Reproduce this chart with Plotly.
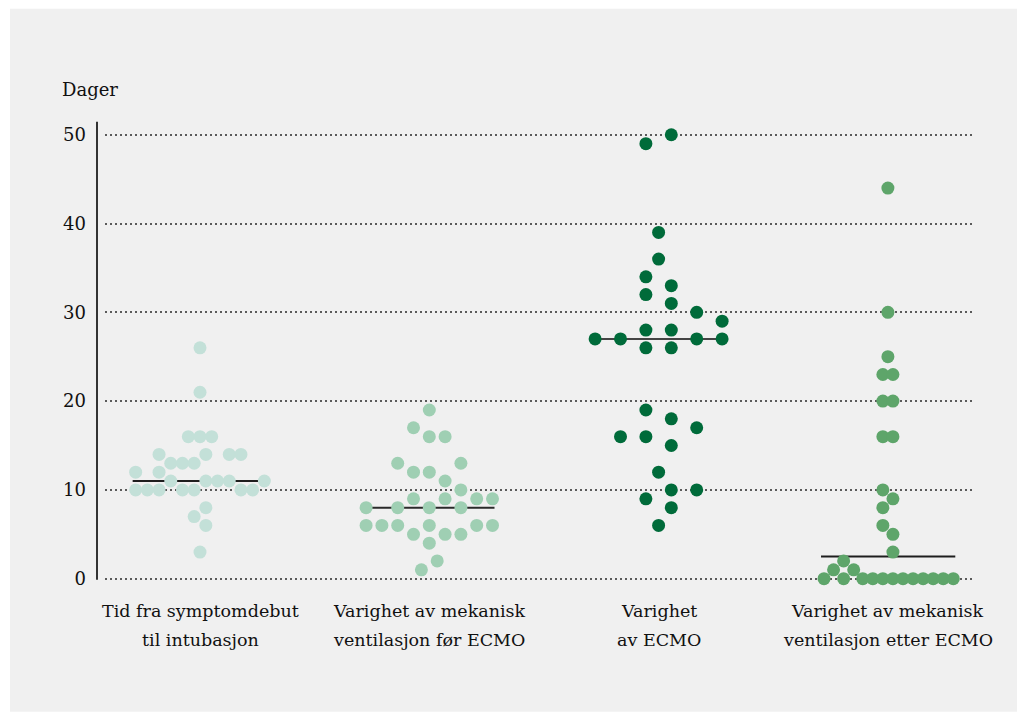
import numpy as np
import plotly.graph_objects as go

# ---- data -------------------------------------------------------------
CATEGORY_LINES = [
    ["Tid fra symptomdebut", "til intubasjon"],
    ["Varighet av mekanisk", "ventilasjon før ECMO"],
    ["Varighet", "av ECMO"],
    ["Varighet av mekanisk", "ventilasjon etter ECMO"],
]
Y_TICKS = [0, 10, 20, 30, 40, 50]
Y_TITLE = "Dager"

symptom_til_intubasjon = [26, 21, 16, 16, 16, 14, 14, 14, 14, 13, 13, 13, 12, 12,
                          11, 11, 11, 11, 11, 10, 10, 10, 10, 10, 10, 10, 8, 7, 6, 3]
ventilasjon_for_ecmo = [19, 17, 16, 16, 13, 13, 12, 12, 11, 10, 9, 9, 9, 9, 8, 8, 8, 8,
                        6, 6, 6, 6, 6, 6, 5, 5, 5, 4, 2, 1]
varighet_ecmo = [50, 49, 39, 36, 34, 33, 32, 31, 30, 29, 28, 28, 27, 27, 27, 27, 26, 26,
                 19, 18, 17, 16, 16, 15, 12, 10, 10, 9, 8, 6]
ventilasjon_etter_ecmo = [44, 30, 25, 23, 23, 20, 20, 16, 16, 10, 9, 8, 6, 5, 3, 2, 1, 1,
                          0, 0, 0, 0, 0, 0, 0, 0, 0, 0, 0, 0]

SERIES = [symptom_til_intubasjon, ventilasjon_for_ecmo, varighet_ecmo, ventilasjon_etter_ecmo]

# ---- swarm layout (column slot of each dot, and slot width in px) -----
SWARM_SLOTS = [
    [0, 0, -2, 0, 2, -7, 1, 5, 7, -5, -3, -1, -11, -7, -5, 1, 3, 5, 11,
     -11, -9, -7, -3, -1, 7, 9, 1, -1, 1, 0],
    [0, -1, 0, 1, -2, 2, -1, 0, 1, 2, -1, 1, 3, 4, -4, -2, 0, 2,
     -4, -3, -2, 0, 3, 4, -1, 1, 2, 0, 0.5, -0.5],
    [1, -1, 0, 0, -1, 1, -1, 1, 3, 5, -1, 1, -5, -3, 3, 5, -1, 1,
     -1, 1, 3, -3, -1, 1, 0, 1, 3, -1, 1, 0],
    [0, 0, 0, -1, 1, -1, 1, -1, 1, -1, 1, -1, -1, 1, 1, -8.8, -10.8, -6.8,
     -12.7, -8.8, -5, -3, -1, 1, 3, 5, 7, 9, 11, 13],
]
SLOT_PX = [5.85, 15.8, 12.7, 5.03]
COLORS = ["#c3e0d8", "#9fcfb3", "#006b3a", "#5ea56a"]
MEDIAN_COLORS = ["#1e1e1e", "#2a2a2a", "#444444", "#1e1e1e"]

FONT = "DejaVu Serif"
W, H = 1025, 720
PLOT_L, PLOT_R = 105, 972
PLOT_T, PLOT_B = 117.24, 592.32
CAT_PX0, CAT_PX_STEP = 200.0, 229.3     # px position of first category and spacing
Y_RANGE = [-1.5, 52]

x_range = [(PLOT_L - CAT_PX0) / CAT_PX_STEP, (PLOT_R - CAT_PX0) / CAT_PX_STEP]


def px_to_paper_x(px):
    return (px - PLOT_L) / (PLOT_R - PLOT_L)


def px_to_paper_y(py):
    return (PLOT_B - py) / (PLOT_B - PLOT_T)


fig = go.Figure()

for i, (vals, slots) in enumerate(zip(SERIES, SWARM_SLOTS)):
    offs = np.array(slots, dtype=float) * SLOT_PX[i] / CAT_PX_STEP
    xs = i + offs
    med = float(np.median(vals))
    # median line, drawn under the dots
    fig.add_trace(go.Scatter(
        x=[xs.min() - 3 / CAT_PX_STEP, xs.max() + 2 / CAT_PX_STEP], y=[med, med], mode="lines",
        line=dict(color=MEDIAN_COLORS[i], width=2),
        hoverinfo="skip", showlegend=False))
    fig.add_trace(go.Scatter(
        x=xs, y=vals, mode="markers",
        marker=dict(size=13, color=COLORS[i], line=dict(width=0)),
        showlegend=False, hoverinfo="y", cliponaxis=False))

shapes = [
    # light panel behind the chart
    dict(type="rect", xref="paper", yref="paper", layer="below",
         x0=px_to_paper_x(10), x1=px_to_paper_x(1017),
         y0=px_to_paper_y(712), y1=px_to_paper_y(9),
         fillcolor="#f0f0f0", line=dict(width=0)),
    # vertical axis line
    dict(type="line", xref="paper", yref="paper",
         x0=px_to_paper_x(97), x1=px_to_paper_x(97),
         y0=px_to_paper_y(580), y1=px_to_paper_y(122),
         line=dict(color="#333333", width=2)),
]

annotations = [
    dict(text=Y_TITLE, xref="paper", yref="paper",
         x=px_to_paper_x(60), y=px_to_paper_y(90), xanchor="left", yanchor="middle",
         showarrow=False, font=dict(family=FONT, size=18, color="#111111")),
]
for i, lines in enumerate(CATEGORY_LINES):
    for j, line in enumerate(lines):
        annotations.append(dict(
            text=line, xref="x", yref="paper", x=i, y=px_to_paper_y(611 + 29 * j),
            xanchor="center", yanchor="middle", showarrow=False,
            font=dict(family=FONT, size=17.5, color="#111111")))

fig.update_layout(
    width=W, height=H,
    margin=dict(l=PLOT_L, r=W - PLOT_R, t=PLOT_T, b=H - PLOT_B, pad=0),
    paper_bgcolor="#ffffff", plot_bgcolor="rgba(0,0,0,0)",
    shapes=shapes, annotations=annotations,
    xaxis=dict(range=x_range, showgrid=False, zeroline=False, showline=False,
               showticklabels=False, ticks="", fixedrange=True),
    yaxis=dict(range=Y_RANGE, tickvals=Y_TICKS, showgrid=True, gridcolor="#5a5a5a",
               griddash="1.5px,3.5px", gridwidth=1.5, zeroline=False, showline=False,
               ticks="", ticklen=0, ticklabelstandoff=18,
               tickfont=dict(family=FONT, size=18, color="#111111"), fixedrange=True),
    font=dict(family=FONT),
)

fig.write_html("out.html")
